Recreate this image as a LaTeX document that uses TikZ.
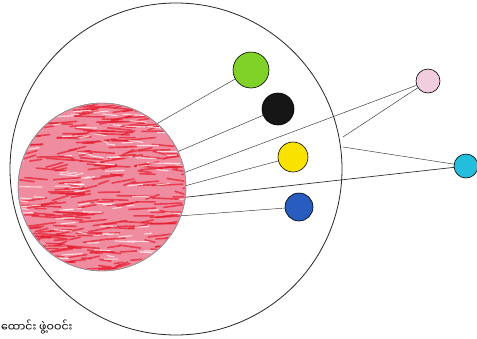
\documentclass[tikz,border=0pt]{standalone}
\usepackage{fontspec}
\newfontfamily\mmfont[Script=Myanmar]{Noto Sans Myanmar UI}
\definecolor{redp}{RGB}{240,140,160}
\definecolor{redd}{RGB}{228,28,45}
\definecolor{grn}{RGB}{128,210,40}
\definecolor{blk}{RGB}{22,22,22}
\definecolor{ylw}{RGB}{250,226,0}
\definecolor{blu}{RGB}{40,92,190}
\definecolor{pnk}{RGB}{242,205,222}
\definecolor{cyn}{RGB}{35,190,220}
\tikzset{
  planet/.style={circle,draw=black,line width=0.6pt,inner sep=0pt},
  ray/.style={draw=black!80,line width=0.45pt}
}
\begin{document}
\begin{tikzpicture}[x=1pt,y=-1pt]
\useasboundingbox[fill=white] (0,0) rectangle (477,338);
% outer circle
\draw[line width=0.8pt,black!85] (176,169) circle (166);
% red sun
\node[circle,draw=black!50,line width=0.4pt,fill=redp,minimum size=168pt,inner sep=0pt] (sun) at (102,187) {};
\begin{scope}
  \clip (102,187) circle (83);
  \pgfmathsetseed{7}
  \foreach \i in {1,...,300}{
    \pgfmathsetmacro{\xa}{10+175*rnd}
    \pgfmathsetmacro{\ya}{100+175*rnd}
    \pgfmathsetmacro{\ln}{8+26*rnd}
    \pgfmathsetmacro{\sl}{-5+8*rnd}
    \draw[redd,line width=1.6pt,opacity=0.7,line cap=round] (\xa,\ya) -- ++(\ln,\sl);
  }
  \foreach \i in {1,...,110}{
    \pgfmathsetmacro{\xa}{10+175*rnd}
    \pgfmathsetmacro{\ya}{100+175*rnd}
    \pgfmathsetmacro{\ln}{6+16*rnd}
    \draw[white,line width=1.1pt,opacity=0.7,line cap=round] (\xa,\ya) -- ++(\ln,-2+4*rnd);
  }
\end{scope}
\draw[black!45,line width=0.4pt] (sun) circle (84);
% planets
\node[planet,fill=grn,minimum size=36pt] (green) at (251,70) {};
\node[planet,fill=blk,minimum size=32pt] (black) at (278,109) {};
\node[planet,fill=ylw,minimum size=30pt] (yellow) at (293,157) {};
\node[planet,fill=blu,minimum size=28pt] (blue) at (299,207) {};
\node[planet,fill=pnk,minimum size=24pt] (pink) at (428,81) {};
\node[planet,fill=cyn,minimum size=24pt] (cyan) at (466,166) {};
% free ends
\coordinate (pe) at (343,137);
\coordinate (ce) at (343,147);
% rays
\draw[ray] (sun.49) -- (green);
\draw[ray] (sun.25) -- (black);
\draw[ray] (sun.10) -- (pink);
\draw[ray] (sun.1) -- (yellow);
\draw[ray,line width=0.7pt] (sun.-7) -- (cyan);
\draw[ray] (sun.-20) -- (blue);
\draw[ray] (pink) -- (pe);
\draw[ray] (cyan) -- (ce);
% caption
\node[anchor=west,inner sep=0pt,font=\mmfont\fontsize{11}{12}\selectfont] (cap) at (1,327) {ထောင်း ဖွဲ့ဝဝင်း};
\end{tikzpicture}
\end{document}
